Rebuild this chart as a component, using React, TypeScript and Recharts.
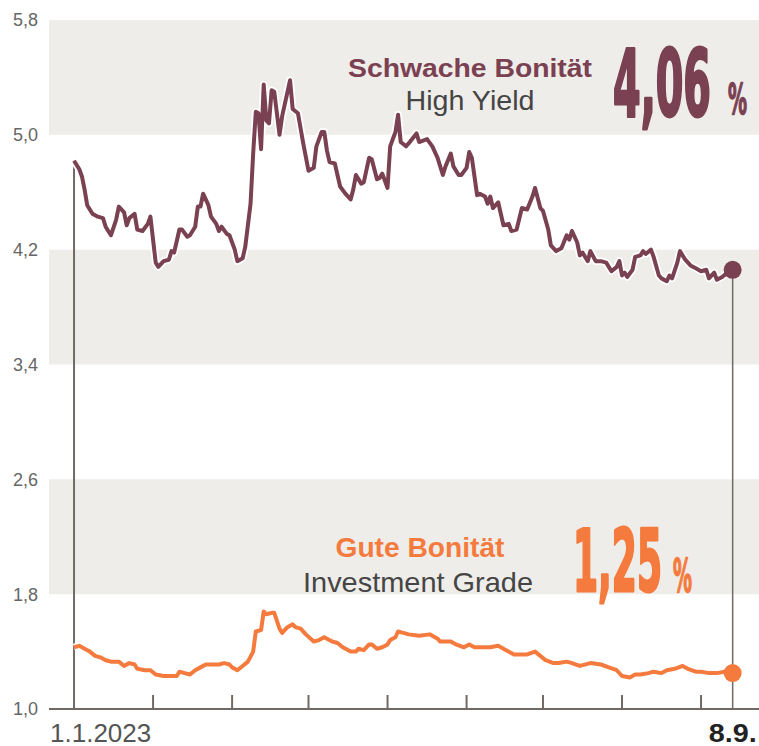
import React from "react";
import {
  LineChart,
  Line,
  XAxis,
  YAxis,
  ReferenceArea,
  ReferenceLine,
  ReferenceDot,
} from "recharts";

// Rendite in %, [Tag seit 1.1.2023, Wert]
const hyPoints: [number, number][] = [
  [0, 4.82], [2, 4.76], [3, 4.71], [4, 4.62], [5, 4.51], [7, 4.45], [9, 4.43], [11, 4.42],
  [12, 4.36], [14, 4.3], [16, 4.41], [17, 4.5], [19, 4.46], [20, 4.37], [21, 4.42], [23, 4.45],
  [24, 4.34], [26, 4.33], [28, 4.38], [29, 4.43], [31, 4.11], [32, 4.08], [34, 4.12], [36, 4.13],
  [37, 4.19], [38, 4.18], [40, 4.34], [41, 4.34], [43, 4.29], [44, 4.3], [46, 4.36], [47, 4.5],
  [48, 4.5], [49, 4.59], [51, 4.51], [52, 4.43], [54, 4.38], [55, 4.33], [56, 4.36], [58, 4.31],
  [59, 4.3], [61, 4.2], [62, 4.12], [64, 4.14], [65, 4.22], [67, 4.52], [68, 4.87], [69, 5.16],
  [70, 5.15], [71, 4.9], [72, 5.35], [73, 5.1], [74, 5.08], [75, 5.31], [76, 5.3], [78, 5.0],
  [79, 5.13], [82, 5.38], [83, 5.18], [85, 5.15], [87, 4.94], [89, 4.75], [91, 4.77], [92, 4.92],
  [94, 5.02], [95, 5.02], [96, 4.89], [97, 4.81], [99, 4.8], [101, 4.64], [103, 4.59], [105, 4.55],
  [106, 4.62], [107, 4.72], [109, 4.66], [110, 4.67], [112, 4.84], [113, 4.83], [115, 4.69], [116, 4.7],
  [117, 4.73], [119, 4.63], [120, 4.92], [122, 5.02], [123, 5.14], [124, 4.95], [126, 4.92], [127, 4.94],
  [130, 5.01], [131, 4.95], [134, 4.97], [136, 4.92], [138, 4.84], [140, 4.72], [141, 4.78], [143, 4.87],
  [144, 4.78], [146, 4.72], [147, 4.72], [149, 4.77], [150, 4.88], [151, 4.84], [153, 4.58], [154, 4.59],
  [156, 4.57], [157, 4.52], [158, 4.57], [159, 4.49], [161, 4.53], [162, 4.45], [163, 4.37], [165, 4.38],
  [166, 4.33], [168, 4.34], [170, 4.49], [172, 4.48], [174, 4.57], [175, 4.63], [177, 4.49], [178, 4.47],
  [180, 4.34], [181, 4.23], [183, 4.19], [185, 4.21], [187, 4.3], [188, 4.27], [189, 4.33], [191, 4.25],
  [192, 4.16], [193, 4.18], [195, 4.12], [196, 4.19], [198, 4.12], [200, 4.12], [202, 4.11], [204, 4.05],
  [206, 4.08], [207, 4.12], [208, 4.02], [209, 4.04], [210, 4.01], [212, 4.06], [213, 4.15], [215, 4.16],
  [216, 4.19], [217, 4.17], [219, 4.2], [220, 4.15], [222, 4.02], [223, 4.0], [225, 3.98], [226, 4.02],
  [227, 4.0], [229, 4.11], [230, 4.19], [232, 4.13], [234, 4.09], [236, 4.07], [238, 4.05], [240, 4.06],
  [241, 4.0], [243, 4.04], [244, 3.99], [246, 4.01], [248, 4.04], [250, 4.06],
];

const igPoints: [number, number][] = [
  [0, 1.43], [2, 1.44], [4, 1.42], [6, 1.4], [8, 1.37], [10, 1.36], [12, 1.34], [14, 1.33],
  [16, 1.33], [17, 1.33], [19, 1.3], [21, 1.32], [23, 1.31], [24, 1.28], [27, 1.27], [29, 1.27],
  [31, 1.24], [34, 1.23], [36, 1.23], [39, 1.23], [40, 1.26], [42, 1.25], [44, 1.24], [46, 1.27],
  [48, 1.29], [50, 1.31], [52, 1.31], [55, 1.31], [57, 1.32], [59, 1.31], [60, 1.29], [62, 1.27],
  [64, 1.3], [66, 1.33], [68, 1.4], [69, 1.54], [71, 1.55], [72, 1.68], [73, 1.66], [75, 1.67],
  [76, 1.67], [78, 1.56], [79, 1.53], [81, 1.57], [83, 1.59], [84, 1.57], [86, 1.56], [88, 1.52],
  [91, 1.47], [93, 1.48], [95, 1.5], [96, 1.49], [98, 1.47], [100, 1.46], [102, 1.43], [105, 1.4],
  [107, 1.4], [108, 1.42], [110, 1.41], [112, 1.45], [113, 1.45], [115, 1.42], [117, 1.43], [119, 1.45],
  [120, 1.48], [122, 1.5], [123, 1.54], [125, 1.53], [127, 1.52], [131, 1.51], [135, 1.52], [138, 1.49],
  [139, 1.47], [143, 1.47], [145, 1.45], [148, 1.43], [150, 1.45], [152, 1.43], [155, 1.43], [158, 1.43],
  [161, 1.44], [164, 1.41], [167, 1.38], [169, 1.38], [172, 1.38], [175, 1.4], [177, 1.37], [179, 1.34],
  [182, 1.32], [184, 1.32], [187, 1.33], [189, 1.32], [192, 1.3], [196, 1.32], [200, 1.31], [203, 1.29],
  [206, 1.27], [208, 1.23], [211, 1.22], [213, 1.24], [215, 1.24], [218, 1.25], [220, 1.26], [223, 1.25],
  [225, 1.27], [228, 1.28], [231, 1.3], [233, 1.28], [236, 1.26], [238, 1.26], [241, 1.25], [244, 1.25],
  [247, 1.26], [250, 1.25],
];

const yTicks = [1.0, 1.8, 2.6, 3.4, 4.2, 5.0, 5.8];
const bands: [number, number][] = [[1.8, 2.6], [3.4, 4.2], [5.0, 5.8]];
const xTicks = [0, 30, 60, 89, 119, 149, 178, 208, 238, 250];
const xLabels: Record<number, string> = { 0: "1.1.2023", 250: "8.9." };

const HY = "#7a4152";
const IG = "#f47b3d";
const AXIS = "#716a64";
const TEXT = "#454545";
const SANS = "'Liberation Sans', Arial, sans-serif";
const NARROW = "'Liberation Sans Narrow', 'DejaVu Sans Condensed', sans-serif";

const hyData = hyPoints.map(([day, v]) => ({ day, v }));
const igData = igPoints.map(([day, v]) => ({ day, v }));
const hyLast = hyPoints[hyPoints.length - 1];
const igLast = igPoints[igPoints.length - 1];

const fmt = (v: number, d = 1) => v.toFixed(d).replace(".", ",");

function XTick(props: any) {
  const { x, y, payload } = props;
  const label = xLabels[payload.value];
  if (payload.value === 0) {
    return (
      <text x={x - 24} y={y + 33} fontSize={26} fill="#555" fontFamily={SANS} textAnchor="start">
        {label}
      </text>
    );
  }
  if (label) {
    return (
      <text x={x + 24} y={y + 33} fontSize={26} fontWeight="bold" fill="#222" fontFamily={SANS}
        textAnchor="end" textLength={48} lengthAdjust="spacingAndGlyphs">
        {label}
      </text>
    );
  }
  return <line x1={x} x2={x} y1={y - 14} y2={y} stroke={AXIS} strokeWidth={2} />;
}

// grosse Zahl, mit Kontur etwas fetter gemacht
function BigNum(p: { x: number; y: number; size: number; w: number; color: string; text: string; sw: number }) {
  return (
    <text x={p.x} y={p.y} fontFamily={NARROW} fontWeight="bold" fontSize={p.size}
      fill={p.color} stroke={p.color} strokeWidth={p.sw} strokeLinejoin="round"
      textLength={p.w} lengthAdjust="spacingAndGlyphs">{p.text}</text>
  );
}

// Beschriftungen als eigene SVG-Ebene über dem Chart
function Annotations() {
  return (
    <svg width={759} height={746}
      style={{ position: "absolute", left: 0, top: 0, pointerEvents: "none" }}>
      <text x={470} y={77} textAnchor="middle" fontFamily={SANS} fontWeight="bold" fontSize={26}
        fill={HY} textLength={244} lengthAdjust="spacingAndGlyphs">Schwache Bonität</text>
      <text x={470} y={110} textAnchor="middle" fontFamily={SANS} fontSize={27}
        fill={TEXT} textLength={129} lengthAdjust="spacingAndGlyphs">High Yield</text>
      <BigNum x={613} y={116} size={92} w={98} color={HY} text={fmt(hyLast[1], 2)} sw={3} />
      <BigNum x={728} y={114} size={42} w={19} color={HY} text="%" sw={1.5} />

      <text x={420} y={557} textAnchor="middle" fontFamily={SANS} fontWeight="bold" fontSize={27}
        fill={IG} textLength={169} lengthAdjust="spacingAndGlyphs">Gute Bonität</text>
      <text x={418} y={592} textAnchor="middle" fontFamily={SANS} fontSize={28}
        fill={TEXT} textLength={230} lengthAdjust="spacingAndGlyphs">Investment Grade</text>
      <BigNum x={573} y={591} size={86} w={89} color={IG} text={fmt(igLast[1], 2)} sw={3} />
      <BigNum x={673} y={592} size={46} w={19} color={IG} text="%" sw={1.5} />
    </svg>
  );
}

export default function App() {
  return (
    <div style={{ position: "fixed", left: 0, top: 0, width: 759, height: 746, background: "#fff" }}>
      <LineChart width={759} height={746} margin={{ top: 20, right: 0, bottom: 0, left: 0 }}>
        {bands.map(([a, b]) => (
          <ReferenceArea key={a} y1={a} y2={b} fill="#efede9" fillOpacity={1} stroke="none" />
        ))}
        <XAxis
          type="number"
          dataKey="day"
          domain={[-9.5, 260]}
          allowDataOverflow
          ticks={xTicks}
          interval={0}
          height={37}
          tickSize={0}
          tickMargin={0}
          tickLine={false}
          axisLine={{ stroke: AXIS, strokeWidth: 2 }}
          tick={<XTick />}
        />
        <YAxis
          type="number"
          domain={[1.0, 5.8]}
          ticks={yTicks}
          interval={0}
          width={49}
          tickSize={0}
          tickMargin={11}
          axisLine={false}
          tickLine={false}
          tickFormatter={(v) => fmt(v)}
          tick={{ fontSize: 18, fill: "#666", fontFamily: SANS }}
        />
        <ReferenceLine
          segment={[{ x: 0, y: 1.0 }, { x: 0, y: hyPoints[0][1] }]}
          stroke={AXIS}
          strokeWidth={2}
        />
        <ReferenceLine
          segment={[{ x: 250, y: 1.0 }, { x: 250, y: hyLast[1] }]}
          stroke={AXIS}
          strokeWidth={1.5}
        />
        <Line data={hyData} dataKey="v" stroke="#fff" strokeWidth={7.5} dot={false}
          isAnimationActive={false} strokeLinejoin="round" />
        <Line data={igData} dataKey="v" stroke="#fff" strokeWidth={7.5} dot={false}
          isAnimationActive={false} strokeLinejoin="round" />
        <Line data={hyData} dataKey="v" stroke={HY} strokeWidth={4} dot={false}
          isAnimationActive={false} strokeLinejoin="round" />
        <Line data={igData} dataKey="v" stroke={IG} strokeWidth={4} dot={false}
          isAnimationActive={false} strokeLinejoin="round" />
        <ReferenceDot x={hyLast[0]} y={hyLast[1]} r={9} fill={HY} stroke="none" />
        <ReferenceDot x={igLast[0]} y={igLast[1]} r={9} fill={IG} stroke="none" />
      </LineChart>
      <Annotations />
    </div>
  );
}
